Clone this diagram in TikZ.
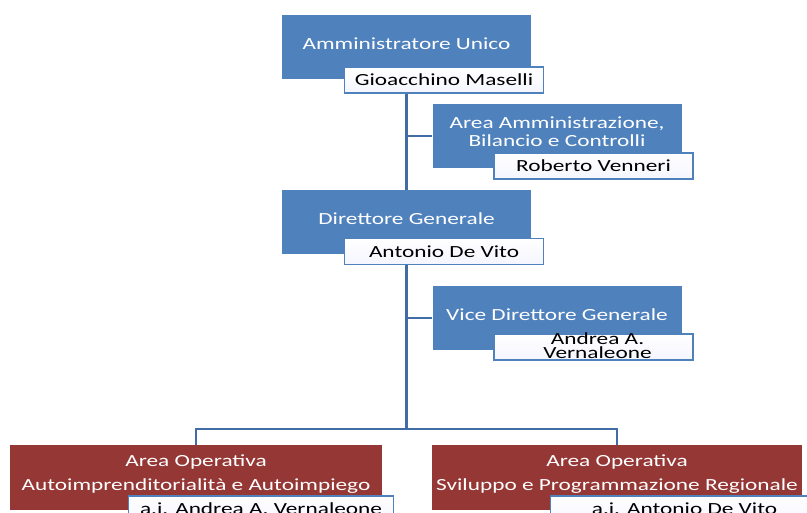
\documentclass[tikz,border=0pt]{standalone}
\usepackage{fontspec}
\setmainfont{Carlito}[FakeStretch=1.37]
\usetikzlibrary{calc}
\usetikzlibrary{positioning}
\definecolor{roleBlue}{RGB}{79,129,189}
\definecolor{roleRed}{RGB}{149,55,53}
\definecolor{linkBlue}{RGB}{66,108,165}
\tikzstyle{rolenode} = [rectangle, fill=roleBlue, text=white, minimum width=249pt, minimum height=64pt, align=center, inner sep=0pt, font=\fontsize{17}{19}\selectfont]
\tikzstyle{namenode} = [rectangle, draw=roleBlue, line width=1.5pt, top color=white, bottom color=blue!4, text=black, minimum width=199pt, minimum height=26pt, align=center, inner sep=0pt, font=\fontsize{17}{17}\selectfont]
\tikzstyle{colorOp} = [fill=roleRed, minimum width=372pt]
\tikzstyle{link} = [draw=linkBlue, line width=2pt]

\begin{document}
\begin{tikzpicture}[x=1pt, y=-1pt]
    \useasboundingbox (0,0) rectangle (807,513);
    % top of the tree
    \node[rolenode] (au) at (406.5,47.5) {\raisebox{8pt}{Amministratore Unico}};
    \node[namenode, anchor=north west] (au_name) at ($(au.north west)+(62,51)$) {Gioacchino Maselli};
    \node[rolenode] (amm) at (557,136.5) {\raisebox{3pt}[\height][\depth]{\begin{tabular}{@{}c@{}}Area Amministrazione,\\[-1pt]Bilancio e Controlli\end{tabular}}};
    \node[namenode, anchor=north west] (amm_name) at ($(amm.north west)+(61,48)$) {Roberto Venneri};
    \node[rolenode] (dg) at (406.5,222) {\raisebox{7pt}{Direttore Generale}};
    \node[namenode, anchor=north west] (dg_name) at ($(dg.north west)+(62,48)$) {Antonio De Vito};
    \node[rolenode] (vdg) at (557,318.5) {\raisebox{8pt}{Vice Direttore Generale}};
    \node[namenode, anchor=north west] (vdg_name) at ($(vdg.north west)+(61,47)$) {};
    \node[inner sep=0pt] (vdg_text) at ($(vdg_name.center)+(4,1)$) {\fontsize{17}{17}\selectfont\begin{tabular}{@{}c@{}}Andrea A.\\[-3pt]Vernaleone\end{tabular}};
    % operative areas
    \node[rolenode, colorOp] (op_auto) at (196,477.5) {\raisebox{2.5pt}[\height][\depth]{\begin{tabular}{@{}c@{}}Area Operativa\\[5pt]Autoimprenditorialit\`a e Autoimpiego\end{tabular}}};
    \node[namenode, minimum width=265pt, anchor=north west] (op_auto_name) at ($(op_auto.north west)+(118,50)$) {\raisebox{-1pt}{a.i. Andrea A. Vernaleone}};
    \node[rolenode, colorOp, minimum width=370pt] (op_svil) at (617,477.5) {\raisebox{2.5pt}[\height][\depth]{\begin{tabular}{@{}c@{}}Area Operativa\\[5pt]Sviluppo e Programmazione Regionale\end{tabular}}};
    \node[namenode, minimum width=268pt, anchor=north west] (op_svil_name) at ($(op_svil.north west)+(118,50)$) {\raisebox{-1pt}{a.i. Antonio De Vito}};
    \coordinate (bus) at ($(dg.south)+(0,175)$);
    % connectors
    \draw[link, line width=3pt] (au_name.south -| au) -- (dg.north);
    \draw[link] (amm.west) -- (amm.west -| au);
    \draw[link, line width=3pt] (dg_name.south -| dg) -- (bus);
    \draw[link] (vdg.west) -- (vdg.west -| dg);
    \draw[link] (op_auto.north) |- (bus) -| (op_svil.north);
\end{tikzpicture}
\end{document}
